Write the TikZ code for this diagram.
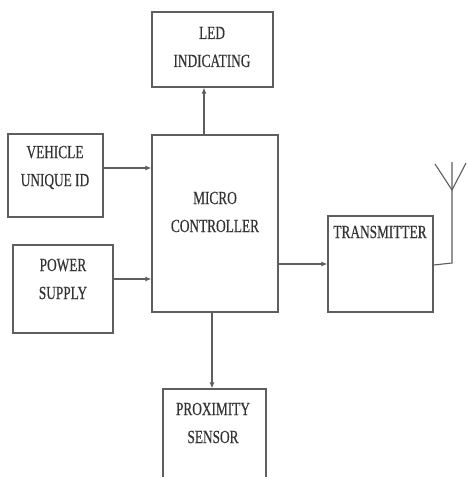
\documentclass[tikz,border=0pt]{standalone}
\usepackage{fontspec}
\setmainfont{Liberation Serif}[FakeStretch=0.72,FakeBold=0.4]
\usetikzlibrary{arrows.meta}
\definecolor{linegray}{HTML}{5E5E5E}
\definecolor{textgray}{HTML}{333333}
\begin{document}
\begin{tikzpicture}[x=1pt,y=-1pt,
  blk/.style={draw=linegray,line width=1.3pt,rectangle,inner sep=0pt},
  lbl/.style={text=textgray,align=center,inner sep=0pt,font=\fontsize{18.5}{28}\selectfont},
  wire/.style={draw=linegray,line width=1.1pt},
  arr/.style={wire,-{Latex[length=6pt,width=5pt]}}]
\useasboundingbox (0,0) rectangle (467,477);
\clip (0,0) rectangle (467,477);
\fill[white] (0,0) rectangle (467,477);
% boxes
\node[blk,minimum width=121,minimum height=75] (led) at (212.5,49.5) {};
\node[blk,minimum width=95,minimum height=83] (vid) at (55.5,175.5) {};
\node[blk,minimum width=100,minimum height=88] (pow) at (63,289) {};
\node[blk,minimum width=126,minimum height=177] (mc) at (215,223.5) {};
\node[blk,minimum width=105,minimum height=96] (tx) at (380.5,264) {};
\node[blk,minimum width=103,minimum height=91] (prox) at (214.5,434.5) {};
% labels
\node[lbl] (tled) at (212,47) {LED\\INDICATING};
\node[lbl] (tmc) at (215,212) {MICRO\\CONTROLLER};
\node[lbl] (tvid) at (55,167.5) {VEHICLE\\UNIQUE ID};
\node[lbl] (tpow) at (63,279) {POWER\\SUPPLY};
\node[lbl] (ttx) at (380,232) {TRANSMITTER};
\node[lbl] (tprox) at (213,423) {PROXIMITY\\SENSOR};
% connectors
\coordinate (mctop) at ([xshift=-11pt]mc.north);
\draw[arr] (mctop) -- (mctop |- led.south);
\draw[arr] ([yshift=7.5pt]vid.east) -- ([yshift=7.5pt]vid.east -| mc.west);
\draw[arr] ([yshift=10pt]pow.east) -- ([yshift=10pt]pow.east -| mc.west);
\draw[arr] (tx.west -| mc.east) -- (tx.west);
\coordinate (mcbot) at ([xshift=-3pt]mc.south);
\draw[arr] (mcbot) -- (mcbot |- prox.north);
% antenna
\coordinate (antbase) at (452,263);
\coordinate (anttop) at (452,162);
\coordinate (antjoin) at (452,190);
\draw[wire] ([yshift=-1pt]tx.east) -- (antbase) -- (anttop);
\draw[wire] (435,164) -- (antjoin) -- (466,163);
\end{tikzpicture}
\end{document}
